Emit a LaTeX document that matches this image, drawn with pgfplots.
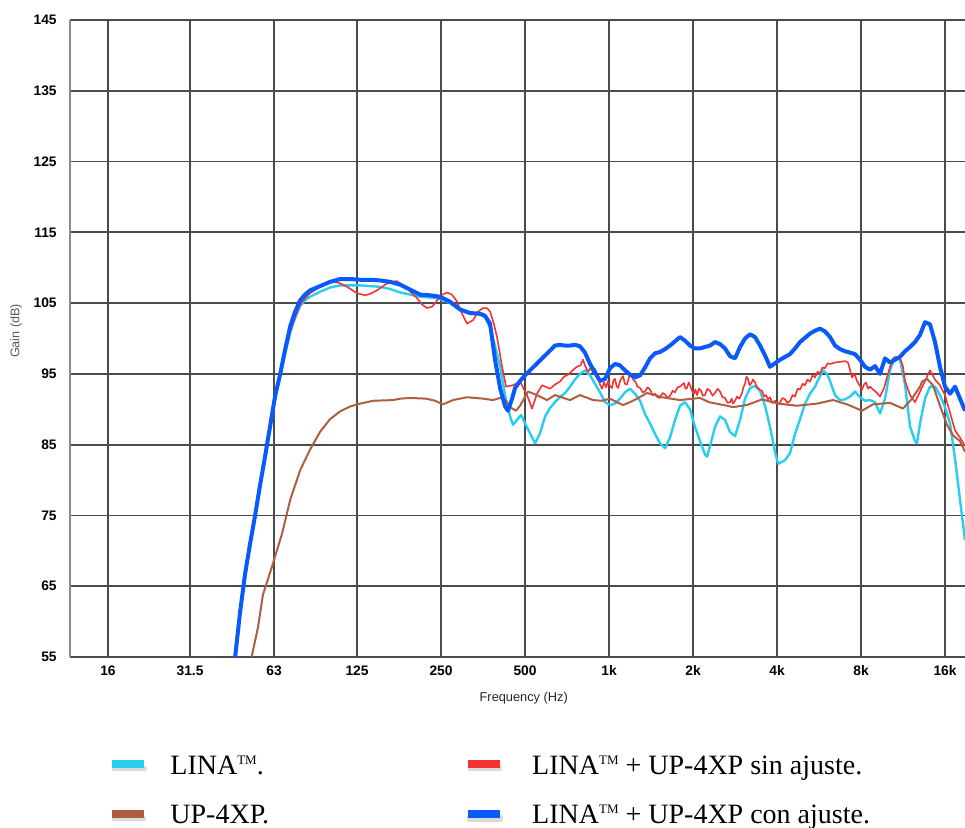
\documentclass[border=0pt]{standalone}
\usepackage{pgfplots}
\pgfplotsset{compat=1.18}
\usepackage{fontspec}
\setmainfont{Liberation Serif}
\newfontfamily\arialf{Liberation Sans}
\newcommand\tm{\raisebox{4.8pt}{\fontsize{6.5}{7}\selectfont TM}}
\definecolor{cyanL}{RGB}{40,205,240}
\definecolor{blueL}{RGB}{10,90,250}
\definecolor{redL}{RGB}{245,50,50}
\definecolor{brownL}{RGB}{175,95,65}
\definecolor{gridL}{RGB}{75,75,75}
\begin{document}
\begin{tikzpicture}
\useasboundingbox (-35pt,-85.5pt) rectangle (447.5pt,328.5pt);
\begin{axis}[
  scale only axis, width=447.5pt, height=318.5pt,
  xmode=log, log basis x=2,
  xmin=11.7, xmax=18870, ymin=55, ymax=145,
  axis lines*=left,
  x axis line style={line width=1.2pt, gridL},
  y axis line style={line width=0.9pt, black!45},
  xtick={16,31.5,63,125,250,500,1000,2000,4000,8000,16000},
  xticklabels={16,31.5,63,125,250,500,1k,2k,4k,8k,16k},
  ytick={55,65,75,85,95,105,115,125,135,145},
  yticklabels={55,65,75,85,95,105,115,125,135,145},
  major tick length=0pt,
  grid=major,
  major grid style={line width=0.85pt, gridL},
  xticklabel style={anchor=north, inner sep=0pt, yshift=-4pt, font=\arialf\bfseries\fontsize{6.9}{8}\selectfont},
  yticklabel style={anchor=east, inner sep=0pt, xshift=-6.5pt, font=\arialf\bfseries\fontsize{6.9}{8}\selectfont},
  xlabel={Frequency (Hz)},
  ylabel={Gain (dB)},
  every axis x label/.style={at={(axis description cs:0.507,-0.0644)}, anchor=center, font=\arialf\fontsize{6.4}{8}\selectfont, text=black!85},
  every axis y label/.style={at={(axis description cs:-0.0603,0.512)}, rotate=90, anchor=center, font=\arialf\fontsize{6.3}{8}\selectfont, text=black!65},
  legend columns=2,
  legend cell align=left,
  legend style={at={(axis description cs:0.0425,-0.154)}, anchor=north west, draw=none, fill=none,
    font=\fontsize{14}{15}\selectfont, inner sep=0pt,
    nodes={inner sep=0pt},
    /tikz/column 1/.style={column sep=11pt},
    /tikz/column 2/.style={column sep=97.5pt},
    /tikz/column 3/.style={column sep=14pt},
    row sep=14pt},
  legend image code/.code={%
    \fill[black!14] (0.5pt,-1.9pt) rectangle (16.5pt,-0.4pt);
    \draw[line width=4pt] (0pt,1pt) -- (16pt,1pt);},
  line join=round,
]
% LINA (cyan)
\addplot[cyanL, line width=1.2pt] coordinates {
(43.8,48.8) (45.7,55.0) (47.6,61.3) (49.6,66.7) (51.6,70.8) (53.9,75.0) (56.1,79.2) (58.5,83.3) (61.0,87.6) (63.6,91.7) (66.3,94.6) (69.0,97.8) (72.0,100.8) (75.0,102.9) (78.2,104.6) (81.4,105.4) (84.8,105.9) (92.1,106.6) (100,107.2) (108.7,107.5) (118.1,107.5) (128.2,107.5) (139.3,107.4) (151.3,107.3) (164.3,107.0) (178.5,106.5) (193.9,106.2) (210.2,105.9) (228.5,105.8) (248,105.6) (269.2,105.0) (292.4,104.0) (317.7,103.5) (345,103.4) (359.6,103.0) (374.7,101.5) (390.3,99.0) (407,96.0) (424,92.0) (441.8,89.0) (452.9,87.8) (468.0,88.5) (483.9,89.2) (500,88.0) (521,86.6) (543,85.2) (566,86.6) (590,89.0) (615,90.2) (640,91.0) (667,91.7) (696,92.3) (725,93.2) (755,94.2) (787,95.0) (820,95.5) (855,94.8) (891,93.6) (928,92.4) (968,91.0) (1008,90.6) (1051,90.8) (1095,91.5) (1141,92.4) (1189,92.9) (1239,92.2) (1292,91.2) (1346,89.3) (1403,88.0) (1462,86.5) (1523,85.2) (1587,84.5) (1654,86.0) (1724,88.5) (1796,90.5) (1872,91.0) (1951,90.0) (2033,87.5) (2119,85.5) (2208,83.6) (2245,83.3) (2301,84.8) (2398,87.5) (2499,89.0) (2604,88.5) (2714,86.8) (2828,86.2) (2948,88.5) (3072,91.5) (3202,93.0) (3337,93.3) (3477,92.6) (3623,90.5) (3776,87.5) (3935,84.0) (4034,82.3) (4273,82.8) (4453,83.8) (4641,86.5) (4836,88.6) (5040,90.8) (5252,92.2) (5473,93.2) (5704,94.7) (5847,95.5) (6043,95.0) (6194,94.0) (6455,92.0) (6727,91.3) (7010,91.4) (7305,91.8) (7613,92.5) (7934,91.7) (8268,91.2) (8616,91.3) (8979,91.0) (9357,89.4) (9751,91.5) (10162,95.5) (10590,97.4) (11036,97.0) (11501,93.5) (11985,87.6) (12490,85.5) (12698,85.2) (13016,88.0) (13564,91.5) (14135,93.2) (14731,93.2) (15351,92.0) (16000,90.3) (16680,88.0) (17380,83.0) (18110,77.2) (18870,71.5)
};
\addlegendentry{LINA\tm.}
% LINA + UP-4XP sin ajuste (red)
\addplot[redL, line width=0.8pt] coordinates {
(43.8,48.8) (45.7,55.0) (47.6,61.3) (49.6,66.7) (51.6,70.8) (53.9,75.0) (56.1,79.2) (58.5,83.3) (61.0,87.6) (63.6,91.7) (66.3,94.8) (69.0,98.0) (72.0,101.0) (75.0,103.0) (78.2,104.8) (81.4,105.7) (84.8,106.4) (92.1,107.3) (100,107.9) (104.3,108.0) (108.7,107.8) (115.1,107.3) (124.9,106.4) (133.5,106.1) (139.3,106.3) (147.4,106.8) (157.5,107.6) (164.3,108.0) (173.9,108.1) (188.8,107.1) (205.1,105.7) (213.7,104.8) (222.8,104.3) (232.3,104.5) (238.0,105.0) (250.1,106.1) (262.7,106.5) (273.7,106.2) (285.4,105.2) (297.3,103.5) (309.9,102.1) (325.7,102.6) (339.4,103.8) (353.6,104.3) (365.6,104.3) (374.7,103.8) (387.1,102.0) (396.8,100.2) (413.8,96.0) (427.5,93.2) (452.9,93.4) (479.9,93.9) (508.3,92.0) (529.7,90.1) (552.0,92.2) (575.4,93.4) (615,92.9) (640,93.5) (667,93.9) (690,94.6) (719,95.0) (745,95.6) (767.6,96.0) (790,96.2) (806.7,97.0) (822,96.1) (840.5,95.3) (860,95.9) (875,95.2) (891,95.7) (910,94.6) (928,93.5) (943.4,92.9) (960,93.8) (976,93.1) (992.3,94.0) (1008,93.3) (1024.8,93.0) (1037,94.1) (1051,94.3) (1064,93.3) (1077.3,93.0) (1100,94.2) (1122.4,94.7) (1140,93.6) (1160,93.5) (1180,94.6) (1198.9,95.0) (1220,94.2) (1239,94.0) (1265,93.2) (1292,93.0) (1320,92.4) (1346,92.5) (1375,93.1) (1403,92.8) (1432,92.0) (1462,92.2) (1492,91.7) (1523,91.6) (1555,92.3) (1587,92.1) (1620,91.6) (1654,91.9) (1690,92.6) (1724,92.4) (1760,93.1) (1796,93.2) (1856,93.7) (1880,92.9) (1903,93.0) (1930,93.8) (1951,93.4) (1985,92.6) (2016,92.2) (2040,92.8) (2067,92.0) (2100,92.9) (2137,92.6) (2170,91.9) (2208,92.0) (2250,92.9) (2301,92.6) (2350,91.9) (2398,92.3) (2450,92.9) (2499,92.5) (2550,91.7) (2604,91.6) (2660,90.9) (2714,91.0) (2750,91.5) (2782,90.8) (2830,91.2) (2875,91.8) (2930,91.5) (2997,92.3) (3030,93.1) (3072,93.6) (3110,94.6) (3149,94.3) (3190,93.4) (3229,93.6) (3280,94.2) (3337,93.8) (3380,93.2) (3421,93.0) (3480,92.7) (3535,92.6) (3600,91.8) (3653,92.0) (3710,91.4) (3776,91.7) (3850,90.9) (3935,91.2) (4020,90.7) (4101,91.0) (4190,91.6) (4273,91.4) (4360,90.9) (4453,91.2) (4550,92.0) (4641,91.8) (4740,92.9) (4836,92.8) (4940,93.6) (5040,93.4) (5140,94.2) (5252,93.9) (5360,94.8) (5473,94.5) (5590,95.3) (5704,95.0) (5820,95.9) (5944,95.8) (6070,96.5) (6194,96.4) (6455,96.6) (6727,96.7) (7010,96.8) (7186,96.6) (7427,94.5) (7580,95.0) (7740,94.0) (7900,93.4) (8066,92.8) (8200,93.5) (8337,93.8) (8480,92.9) (8616,93.2) (8832,92.8) (9128,92.3) (9357,91.8) (9671,93.0) (9913,94.5) (10162,96.0) (10417,97.2) (10766,97.4) (11036,97.3) (11313,96.0) (11501,94.0) (11985,92.0) (12490,91.0) (13016,92.5) (13564,94.0) (14135,95.5) (14731,94.2) (15351,93.4) (16000,92.0) (16680,89.5) (17380,87.0) (18110,86.0) (18870,84.8)
};
\addlegendentry{LINA\tm{} + UP-4XP sin ajuste.}
% UP-4XP (brown)
\addplot[brownL, line width=1pt] coordinates {
(50.4,52.0) (52.5,55.2) (55.2,59.2) (57.5,63.8) (62.0,67.8) (67.4,72.5) (72.0,77.2) (78.2,81.4) (84.8,84.3) (92.1,86.8) (100,88.6) (108.7,89.7) (118.1,90.4) (128.2,90.8) (142.8,91.2) (168.4,91.3) (178.5,91.5) (193.9,91.6) (221.0,91.5) (238.0,91.2) (254.2,90.7) (275.9,91.3) (309.9,91.7) (353.6,91.5) (383.9,91.3) (407,91.6) (424,91.4) (441.8,90.3) (464.1,89.8) (479.9,90.5) (512.5,92.5) (552.0,92.0) (599.8,91.3) (640,92.0) (725,91.3) (787,92.0) (876.4,91.3) (943.4,91.2) (1008,91.5) (1068.5,91.0) (1122.4,90.6) (1189,91.0) (1259.6,91.5) (1368.4,92.3) (1462,92.0) (1548.3,91.7) (1796,91.3) (2119,91.6) (2282,91.0) (2647,90.5) (2782,90.3) (3123,90.6) (3535,91.4) (4034,90.8) (4718,90.5) (5564,90.8) (6349,91.3) (7127,90.7) (8066,89.8) (8832,90.7) (10162,90.9) (11313,90.1) (12184,91.5) (13016,93.2) (13233,93.9) (13790,94.3) (14489,93.4) (15351,90.5) (16266,87.8) (17098,86.3) (18110,85.5) (18870,84.0)
};
\addlegendentry{UP-4XP.}
% LINA + UP-4XP con ajuste (blue)
\addplot[blueL, line width=2pt] coordinates {
(43.8,48.8) (45.7,55.0) (47.6,61.3) (49.6,66.7) (51.6,70.8) (53.9,75.0) (56.1,79.2) (58.5,83.3) (61.0,87.6) (63.6,91.9) (66.3,95.0) (69.0,98.4) (72.0,101.7) (75.0,103.8) (78.2,105.4) (81.4,106.2) (84.8,106.8) (92.1,107.4) (100,108.0) (108.7,108.4) (118.1,108.4) (128.2,108.3) (139.3,108.3) (151.3,108.2) (164.3,108.0) (178.5,107.6) (193.9,106.9) (210.2,106.2) (228.5,106.1) (248.0,105.9) (269.2,105.2) (292.4,104.1) (317.7,103.6) (345,103.5) (359.6,103.2) (374.7,102.1) (390.3,97.0) (407,93.0) (424,90.4) (434.6,89.8) (449.2,91.5) (460.3,93.0) (479.9,94.0) (500,94.8) (521,95.5) (543,96.2) (566,96.9) (590,97.6) (615,98.3) (640,99.0) (667,99.1) (696,99.0) (725,99.0) (755,99.1) (787,98.9) (820,98.0) (855,96.4) (891,95.2) (928,94.0) (968,94.3) (1008,95.8) (1051,96.4) (1095,96.2) (1141,95.5) (1189,94.9) (1239,94.5) (1292,94.8) (1346,95.9) (1403,97.2) (1462,97.9) (1523,98.1) (1587,98.5) (1654,99.0) (1724,99.6) (1796,100.2) (1872,99.7) (1951,99.0) (2033,98.6) (2119,98.6) (2208,98.8) (2301,99.0) (2398,99.5) (2499,99.2) (2604,98.6) (2714,97.5) (2828,97.2) (2948,98.8) (3072,100.0) (3202,100.6) (3337,100.2) (3477,99.0) (3623,97.6) (3776,96.0) (3935,96.5) (4101,97.0) (4273,97.4) (4453,97.8) (4641,98.6) (4836,99.5) (5040,100.1) (5252,100.7) (5473,101.1) (5704,101.4) (5944,101.0) (6194,100.2) (6455,99.0) (6727,98.5) (7010,98.2) (7305,98.0) (7613,97.8) (7934,97.0) (8268,96.0) (8616,95.6) (8979,96.1) (9357,95.0) (9751,97.2) (10162,96.6) (10590,97.0) (11036,97.4) (11501,98.2) (11985,98.8) (12490,99.5) (13016,100.5) (13564,102.3) (14135,102.0) (14731,99.5) (15351,96.0) (16000,93.2) (16680,92.2) (17380,93.2) (18110,91.5) (18870,89.8)
};
\addlegendentry{LINA\tm{} + UP-4XP con ajuste.}
\end{axis}
\end{tikzpicture}
\end{document}
